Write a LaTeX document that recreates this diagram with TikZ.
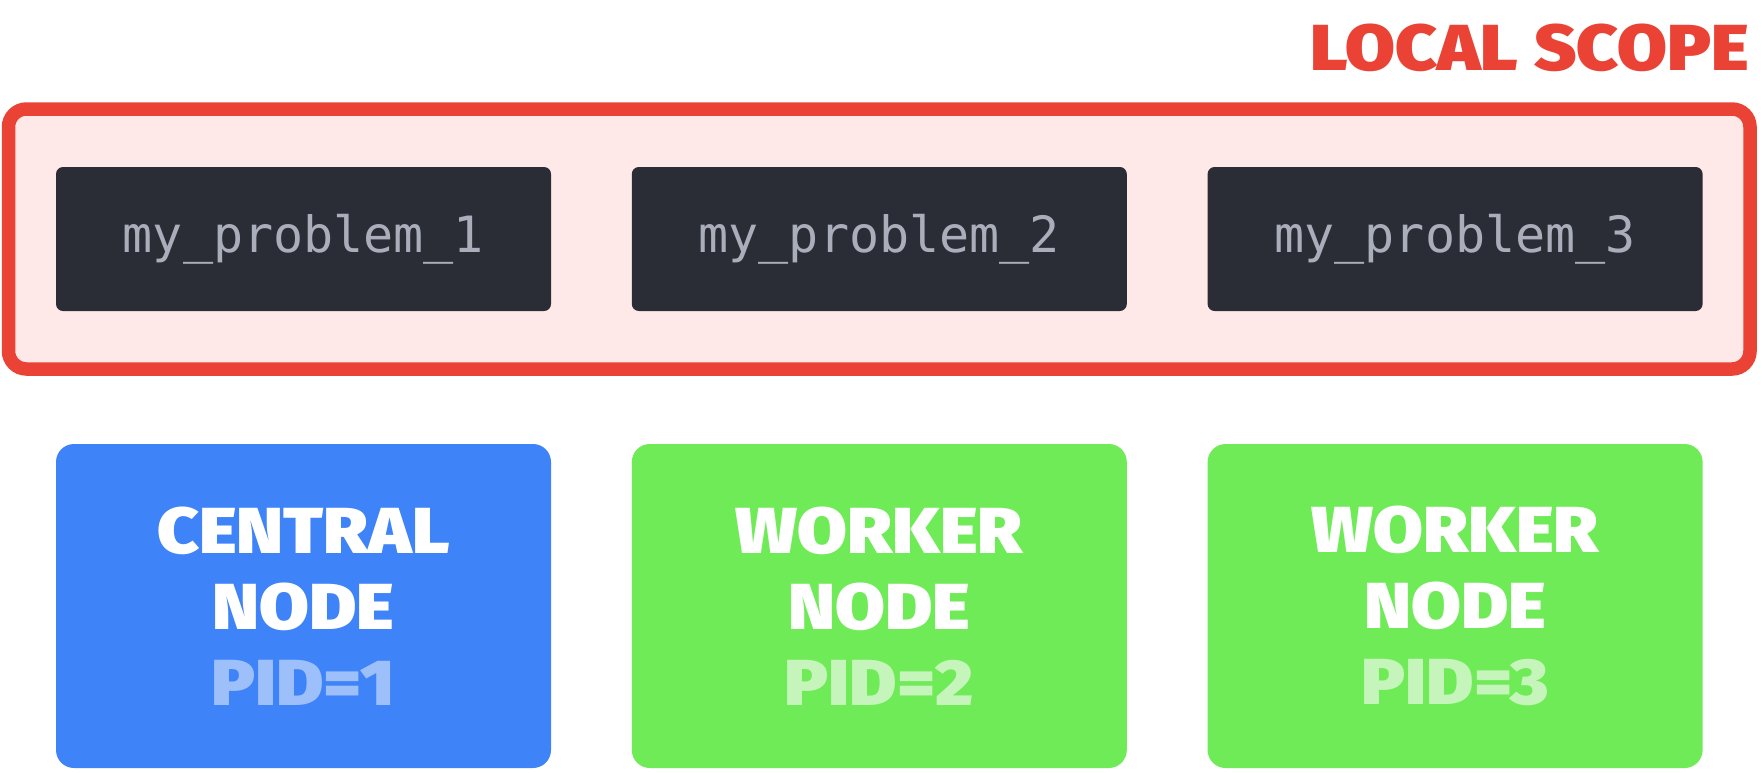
\documentclass[tikz,border=0pt]{standalone}
\usepackage{fontspec}
\setmonofont{DejaVu Sans Mono}
\newfontfamily\headfont{Fira Sans}[UprightFont=* Black, FakeStretch=1.11]
\usepackage{tikz}
\usetikzlibrary{positioning}
\definecolor{scopered}{HTML}{EA4335}
\definecolor{scopepink}{HTML}{FFE9E8}
\definecolor{codedark}{HTML}{2A2D35}
\definecolor{codegray}{HTML}{A9AEBA}
\definecolor{centralblue}{HTML}{3F83F8}
\definecolor{paleblue}{HTML}{9DC0FB}
\definecolor{workergreen}{HTML}{6EEB57}
\definecolor{palegreen}{HTML}{C5F5BB}
\begin{document}
\begin{tikzpicture}[x=0.5pt, y=-0.5pt,
        codebox/.style={fill=codedark, rounded corners=3.5pt, minimum width=247.5pt, minimum height=72pt,
            inner sep=0pt, text=codegray, font=\ttfamily\fontsize{25}{30}\selectfont},
        procbox/.style={rounded corners=9pt, minimum width=247.5pt, minimum height=162pt,
            inner sep=0pt, text=white, align=center, font=\headfont\fontsize{32.5}{38}\selectfont},
        node distance=40pt]
        \useasboundingbox (0,0) rectangle (1764,772);
        % local scope frame
        \draw[scopered, fill=scopepink, line width=6.75pt, rounded corners=9pt] (8.5,109) rectangle (1750,369);
        \node[text=scopered, font=\headfont\fontsize{32.5}{38}\selectfont, anchor=base east, inner sep=0pt] (scopelabel) at (1749,70) {LOCAL SCOPE};
        % variables
        \node[codebox] (prob1) at (303.5,239) {my\_problem\_1};
        \node[codebox, right=of prob1] (prob2) {my\_problem\_2};
        \node[codebox, right=of prob2] (prob3) {my\_problem\_3};
        % processes
        \node[procbox, fill=centralblue] (central) at (303.5,606) {CENTRAL\\NODE\\\textcolor{paleblue}{PID=1}};
        \node[procbox, fill=workergreen, right=of central] (worker2) {WORKER\\NODE\\\textcolor{palegreen}{PID=2}};
        \node[procbox, fill=workergreen, right=of worker2] (worker3) {WORKER\\NODE\\\textcolor{palegreen}{PID=3}};
    \end{tikzpicture}
\end{document}
